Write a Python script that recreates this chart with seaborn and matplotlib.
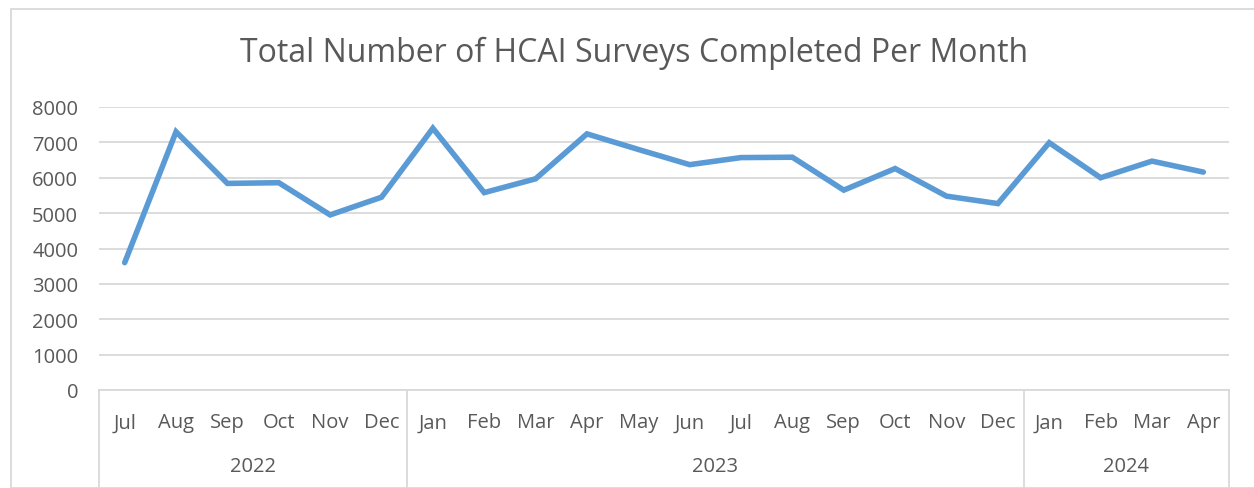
import numpy as np
import pandas as pd
import matplotlib.pyplot as plt
import matplotlib.transforms as mtransforms
from matplotlib.patches import Rectangle
import seaborn as sns

sns.set_theme(style="white")
plt.rcParams['font.family'] = ['Open Sans', 'DejaVu Sans']

months = ['Jul', 'Aug', 'Sep', 'Oct', 'Nov', 'Dec',
          'Jan', 'Feb', 'Mar', 'Apr', 'May', 'Jun', 'Jul', 'Aug', 'Sep', 'Oct', 'Nov', 'Dec',
          'Jan', 'Feb', 'Mar', 'Apr']
years = ['2022', '2023', '2024']
months_per_year = [6, 12, 4]
surveys = [3600, 7300, 5840, 5860, 4950, 5450,
           7400, 5580, 5970, 7240, 6800, 6370, 6570, 6580, 5650, 6260, 5480, 5270,
           6990, 6000, 6470, 6160]

TEXT = '#595959'
GRID = '#D9D9D9'

df = pd.DataFrame({'pos': np.arange(len(months)), 'surveys': surveys})

fig = plt.figure(figsize=(12.54, 4.89), dpi=100)
# chart area border
fig.patches.append(Rectangle((11 / 1254, 0), 1.2, 1 - 10 / 489, transform=fig.transFigure,
                             fill=False, edgecolor=GRID, linewidth=1.3))
ax = fig.add_axes([99 / 1254, 98 / 489, 1130 / 1254, 283 / 489])

sns.lineplot(data=df, x='pos', y='surveys', ax=ax, color='#5B9BD5', linewidth=4.0,
             solid_capstyle='round', solid_joinstyle='miter')

ax.set_xlim(-0.5, len(months) - 0.5)
ax.set_ylim(0, 8000)
ax.set_yticks(range(0, 8001, 1000))
ax.yaxis.grid(True, color=GRID, linewidth=1.3)
ax.set_axisbelow(True)
for s in ['top', 'right', 'left']:
    ax.spines[s].set_visible(False)
ax.spines['bottom'].set_color(GRID)
ax.spines['bottom'].set_linewidth(1.3)
ax.tick_params(axis='y', length=0, pad=15, labelsize=14.5, labelcolor=TEXT)
ax.set_xticks(df['pos'])
ax.set_xticklabels(months)
ax.tick_params(axis='x', length=0, pad=16, labelsize=14.5, labelcolor=TEXT)
ax.set_xlabel('')
ax.set_ylabel('')

# multi-level category axis: group separators and year labels
trans = mtransforms.blended_transform_factory(ax.transData, ax.transAxes)
bounds = np.concatenate([[0], np.cumsum(months_per_year)]) - 0.5
for b in bounds:
    ax.plot([b, b], [0, -0.4], transform=trans, color=GRID, linewidth=1.3, clip_on=False)
for yr, lo, hi in zip(years, bounds[:-1], bounds[1:]):
    ax.text((lo + hi) / 2, -0.27, yr, transform=trans, ha='center', va='center',
            fontsize=14.5, color=TEXT)

fig.text(634 / 1254, 1 - 53 / 489, 'Total Number of HCAI Surveys Completed Per Month',
         ha='center', va='center', fontsize=23, color=TEXT)

fig.savefig('out.png', dpi=100, facecolor='white')
